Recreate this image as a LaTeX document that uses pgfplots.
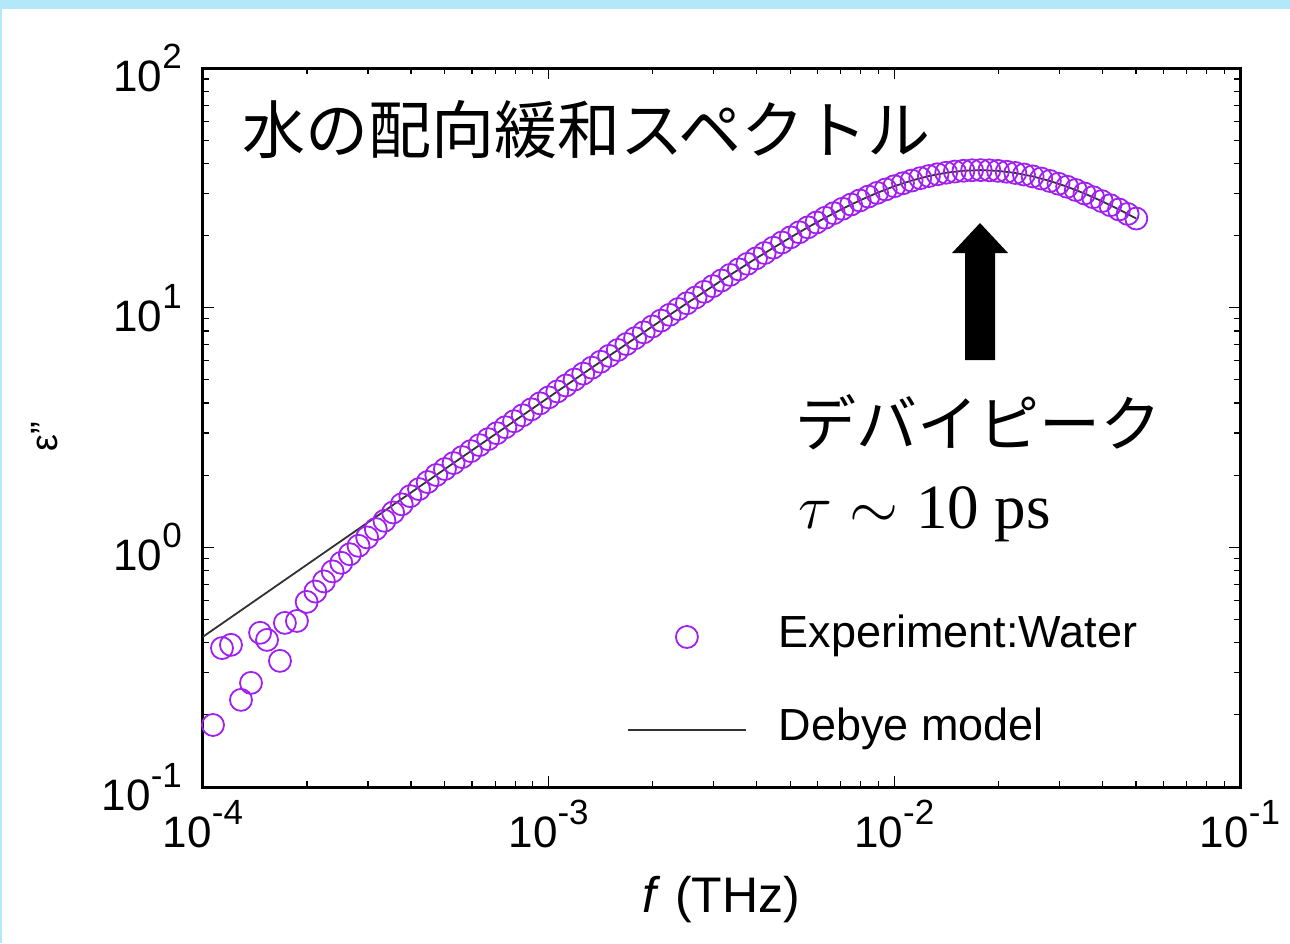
\RequirePackage{fix-cm}
\documentclass[border=0pt]{standalone}
\usepackage{pgfplots}
\pgfplotsset{compat=1.18}
\usepackage{fontspec}
\setmainfont{Liberation Sans}
\newfontfamily\cjk{Noto Sans CJK JP}
\newfontfamily\serif{Liberation Serif}
\definecolor{expcol}{RGB}{160,32,240}
\definecolor{bgblue}{RGB}{178,232,250}
\definecolor{debye}{RGB}{50,50,50}
\newcommand\ex[1]{\raisebox{11.5pt}{\fontsize{17.5}{17.5}\selectfont #1}}
\pgfplotsset{
  explegend/.style={legend image code/.code={\draw[mark repeat=2,mark phase=2,##1] plot coordinates {(0pt,0pt)(29.5pt,0pt)(59pt,0pt)}; \path (0pt,0pt) (75pt,0pt);}},
  linelegend/.style={legend image code/.code={\draw[##1] (0pt,0pt) -- (59pt,0pt); \path (0pt,0pt) (75pt,0pt);}},
}

\begin{document}
\begin{tikzpicture}
\begin{scope}[x=0.5pt,y=-0.5pt]
\fill[bgblue] (0,0) rectangle (1290,943);
\fill[white] (2,9) rectangle (1290,943);
\end{scope}
\begin{axis}[
  at={(101.5pt,-393.5pt)}, anchor=south west,
  scale only axis, width=518.5pt, height=359.5pt,
  xmode=log, ymode=log,
  xmin=1e-4, xmax=1e-1, ymin=0.1, ymax=100,
  xtick={1e-4,1e-3,1e-2,1e-1},
  xticklabels={10\ex{-4},10\ex{-3},10\ex{-2},10\ex{-1}},
  ytick={0.1,1,10,100},
  yticklabels={10\ex{-1},10\ex{0},10\ex{1},10\ex{2}},
  ticklabel style={font=\fontsize{22}{22}\selectfont},
  yticklabel style={xshift=-7pt},
  xticklabel style={yshift=-3pt},
  major tick length=5.5pt, minor tick length=3pt,
  tick style={line width=0.6pt, black},
  axis line style={line width=1.5pt},
  xlabel={\textit{f} (THz)}, ylabel={ε''},
  every axis x label/.style={at={(axis description cs:0.5,-0.157)}, anchor=center, font=\fontsize{25}{25}\selectfont},
  every axis y label/.style={at={(axis description cs:-0.1524,0.4868)}, anchor=center, rotate=90, font=\fontsize{19}{19}\selectfont},
  legend cell align=left,
  legend style={at={(0.4089,0.144)}, anchor=west, draw=none, fill=none, inner sep=0pt, outer sep=0pt,
    font=\fontsize{22.5}{22.5}\selectfont, row sep=25.5pt, column sep=0pt,
    nodes={inner sep=0pt, text height=16pt, text depth=5pt}},
]
\addplot[only marks, mark=o, mark size=5.5pt, color=expcol, mark options={line width=0.9pt}, explegend]
table {
f e
1.069e-4 0.1815
1.135e-4 0.380
1.205e-4 0.392
1.288e-4 0.231
1.377e-4 0.272
1.463e-4 0.440
1.532e-4 0.411
1.670e-4 0.336
1.726e-4 0.484
1.870e-4 0.493
1.9953e-4 0.592
2.1135e-4 0.654
2.2387e-4 0.721
2.3714e-4 0.794
2.5119e-4 0.862
2.6607e-4 0.936
2.8184e-4 1.015
2.9854e-4 1.100
3.1623e-4 1.192
3.3497e-4 1.291
3.5481e-4 1.398
3.7584e-4 1.512
3.9811e-4 1.636
4.2170e-4 1.750
4.4668e-4 1.873
4.7315e-4 2.0034
5.0119e-4 2.1220
5.3088e-4 2.2475
5.6234e-4 2.3804
5.9566e-4 2.5211
6.3096e-4 2.6702
6.6834e-4 2.8279
7.0795e-4 2.9950
7.4989e-4 3.1718
7.9433e-4 3.3591
8.4140e-4 3.5572
8.9125e-4 3.7669
9.4406e-4 3.9889
1.0000e-3 4.2238
1.0593e-3 4.4726
1.1220e-3 4.7353
1.1885e-3 5.0134
1.2589e-3 5.3075
1.3335e-3 5.6185
1.4125e-3 5.9473
1.4962e-3 6.2949
1.5849e-3 6.6623
1.6788e-3 7.0502
1.7783e-3 7.4599
1.8836e-3 7.8920
1.9953e-3 8.3486
2.1135e-3 8.8296
2.2387e-3 9.3366
2.3714e-3 9.8711
2.5119e-3 10.4336
2.6607e-3 11.0251
2.8184e-3 11.6471
2.9854e-3 12.3001
3.1623e-3 12.9851
3.3497e-3 13.7029
3.5481e-3 14.4536
3.7584e-3 15.2384
3.9811e-3 16.0568
4.2170e-3 16.9089
4.4668e-3 17.7940
4.7315e-3 18.7117
5.0119e-3 19.6606
5.3088e-3 20.6384
5.6234e-3 21.6434
5.9566e-3 22.6722
6.3096e-3 23.7214
6.6834e-3 24.7857
7.0795e-3 25.8609
7.4989e-3 26.9396
7.9433e-3 28.0158
8.4140e-3 29.0812
8.9125e-3 30.1266
9.4406e-3 31.1432
1.0000e-2 32.121
1.0593e-2 33.049
1.1220e-2 33.915
1.1885e-2 34.710
1.2589e-2 35.424
1.3335e-2 36.045
1.4125e-2 36.566
1.4962e-2 36.977
1.5849e-2 37.273
1.6788e-2 37.448
1.7783e-2 37.500
1.8836e-2 37.428
1.9953e-2 37.233
2.1135e-2 36.918
2.2387e-2 36.489
2.3714e-2 35.951
2.5119e-2 35.314
2.6607e-2 34.587
2.8184e-2 33.779
2.9854e-2 32.901
3.1623e-2 31.965
3.3497e-2 30.981
3.5481e-2 29.959
3.7584e-2 28.910
3.9811e-2 27.842
4.2170e-2 26.765
4.4668e-2 25.686
4.7315e-2 24.613
5.0119e-2 23.550
};
\addlegendentry{Experiment:Water}
\addplot[color=debye, line width=0.9pt, mark=none, linelegend]
table {
f e
1e-4 0.4237
1.2589e-4 0.5334
1.5849e-4 0.6715
1.9953e-4 0.8454
2.5119e-4 1.0642
3.1623e-4 1.3395
3.9811e-4 1.6861
5.0119e-4 2.1220
6.3096e-4 2.6702
7.9433e-4 3.3591
1e-3 4.2238
1.2589e-3 5.3075
1.5849e-3 6.6623
1.9953e-3 8.3486
2.5119e-3 10.4336
3.1623e-3 12.9851
3.9811e-3 16.0568
5.0119e-3 19.6606
5.6234e-3 21.6434
6.3096e-3 23.7214
7.0795e-3 25.8609
7.9433e-3 28.0158
8.9125e-3 30.1266
1e-2 32.121
1.1220e-2 33.915
1.2589e-2 35.424
1.4125e-2 36.566
1.5849e-2 37.273
1.7783e-2 37.500
1.9953e-2 37.233
2.2387e-2 36.489
2.5119e-2 35.314
2.8184e-2 33.779
3.1623e-2 31.965
3.5481e-2 29.959
3.9811e-2 27.842
4.4668e-2 25.686
5.0119e-2 23.550
};
\addlegendentry{Debye model}
\end{axis}
\begin{scope}[x=0.5pt,y=-0.5pt]
\node[anchor=west, inner sep=0pt, font=\cjk\fontsize{31.5}{31.5}\selectfont] at (242,130) {水の配向緩和スペクトル};
\node[anchor=west, inner sep=0pt, font=\cjk\fontsize{30.5}{30.5}\selectfont] at (795,422) {デバイピーク};
\node[anchor=base west, inner sep=0pt, font=\fontsize{31.5}{31.5}\selectfont] at (798,528) {$\tau$ $\sim$ {\serif 10 ps}};
\fill[black] (980,223) -- (1008,253) -- (995,253) -- (995,360) -- (965,360) -- (965,253) -- (952,253) -- cycle;
\end{scope}
\pgfresetboundingbox
\path[use as bounding box] (0pt,0pt) rectangle (645pt,-471.5pt);
\end{tikzpicture}
\end{document}
